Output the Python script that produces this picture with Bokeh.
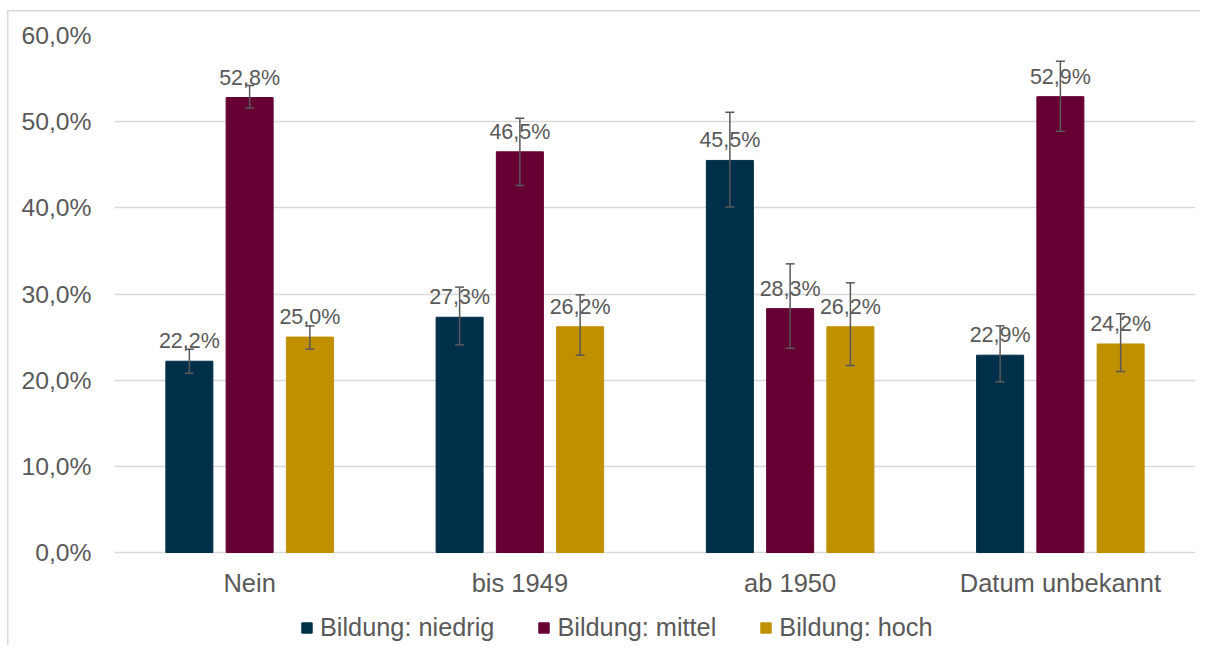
from bokeh.plotting import figure
from bokeh.models import ColumnDataSource, FactorRange, Legend, LegendItem, FixedTicker, Range1d
from bokeh.transform import dodge
from bokeh.core.properties import value
from bokeh.embed import file_html
from bokeh.resources import INLINE

categories = ["Nein", "bis 1949", "ab 1950", "Datum unbekannt"]
series = ["Bildung: niedrig", "Bildung: mittel", "Bildung: hoch"]
colors = ["#003049", "#660033", "#BF9000"]
niedrig = [22.2, 27.3, 45.5, 22.9]
mittel = [52.8, 46.5, 28.3, 52.9]
hoch = [25.0, 26.2, 26.2, 24.2]
niedrig_upper = [23.6, 30.8, 51.1, 26.3]
niedrig_lower = [20.8, 24.1, 40.1, 19.8]
mittel_upper = [54.2, 50.4, 33.5, 57.0]
mittel_lower = [51.6, 42.6, 23.7, 48.9]
hoch_upper = [26.3, 29.9, 31.3, 27.7]
hoch_lower = [23.6, 22.9, 21.7, 21.0]
y_ticks = [0, 10, 20, 30, 40, 50, 60]
y_tick_labels = ["0,0%", "10,0%", "20,0%", "30,0%", "40,0%", "50,0%", "60,0%"]

FONT = "Liberation Sans"
TXT = "#595959"

W, H = 1200, 645
TOP, LEFT, RIGHT = 35, 114, 5
AXIS_BOTTOM_PX = 552          # pixel row of the 0 % line
px_per_unit = (AXIS_BOTTOM_PX - TOP) / 60.0
y_min = -(H - AXIS_BOTTOM_PX) / px_per_unit

p = figure(x_range=FactorRange(*categories), y_range=Range1d(y_min, 60),
           width=W, height=H, output_backend="svg", toolbar_location=None,
           min_border_left=LEFT, min_border_right=RIGHT, min_border_top=TOP, min_border_bottom=0)
p.outline_line_color = None
p.border_fill_color = None
p.background_fill_color = "white"
p.styles = {
    "background-color": "white",
    "background-image": "linear-gradient(#d9d9d9, #d9d9d9), linear-gradient(#d9d9d9, #d9d9d9)",
    "background-size": "1.5px 100%, 100% 1.5px",
    "background-position": "7px 10px, 7px 10px",
    "background-repeat": "no-repeat",
}

vals = [niedrig, mittel, hoch]
ups = [niedrig_upper, mittel_upper, hoch_upper]
lows = [niedrig_lower, mittel_lower, hoch_lower]
offsets = [-0.223, 0.0, 0.223]
renderers = []
for name, v, u, l, off, c in zip(series, vals, ups, lows, offsets, colors):
    src = ColumnDataSource(dict(cat=categories, val=v, up=u, lo=l,
                                lab=[f"{x:.1f}".replace(".", ",") + "%" for x in v]))
    xd = dodge("cat", off, range=p.x_range)
    r = p.vbar(x=xd, top="val", bottom=0, width=0.174, source=src, fill_color=c, line_color=c)
    renderers.append((name, r))
    p.text(x=xd, y="val", text="lab", source=src, text_align="center", text_baseline="alphabetic",
           y_offset=-20, text_color=TXT, text_font=value(FONT), text_font_size="21.5px")
    p.segment(x0=xd, x1=xd, y0="lo", y1="up", source=src, line_color="#595959", line_width=1.5)
    p.scatter(x=xd, y="up", source=src, marker="dash", size=9, line_color="#595959", line_width=1.5)
    p.scatter(x=xd, y="lo", source=src, marker="dash", size=9, line_color="#595959", line_width=1.5)

# category labels under the 0 % line
cat_src = ColumnDataSource(dict(cat=categories, y=[0] * len(categories)))
p.text(x="cat", y="y", text="cat", source=cat_src, text_align="center", text_baseline="middle",
       y_offset=30, text_color=TXT, text_font=value(FONT), text_font_size="25.5px")

p.ygrid.ticker = FixedTicker(ticks=y_ticks)
p.ygrid.grid_line_color = "#d9d9d9"
p.ygrid.grid_line_width = 1.3
p.xgrid.grid_line_color = None
p.xaxis.visible = False

p.yaxis.ticker = FixedTicker(ticks=y_ticks)
p.yaxis.major_label_overrides = {t: s for t, s in zip(y_ticks, y_tick_labels)}
p.yaxis.axis_line_color = None
p.yaxis.major_tick_line_color = None
p.yaxis.minor_tick_line_color = None
p.yaxis.major_label_standoff = 17
p.yaxis.major_label_text_font = FONT
p.yaxis.major_label_text_font_size = "24.7px"
p.yaxis.major_label_text_color = TXT

legend = Legend(items=[LegendItem(label=n, renderers=[r]) for n, r in renderers],
                orientation="horizontal", location=(186, 3), margin=0,
                padding=0, spacing=43, label_standoff=7, glyph_width=13, glyph_height=13,
                border_line_color=None, background_fill_alpha=0,
                label_text_font=FONT, label_text_font_size="25.3px", label_text_color=TXT)
p.add_layout(legend, "center")

open("out.html", "w").write(file_html(p, INLINE))
